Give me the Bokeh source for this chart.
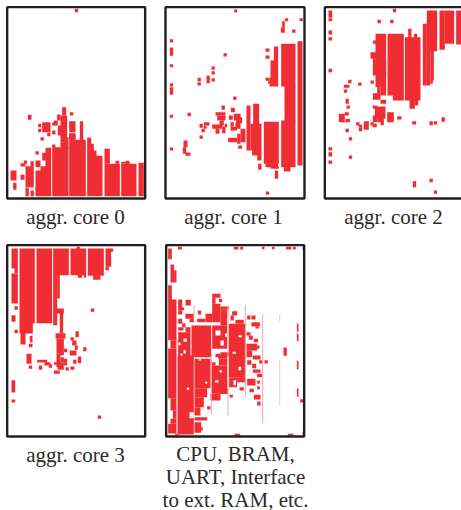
from bokeh.plotting import figure
from bokeh.models import Range1d
from bokeh.core.properties import value
from bokeh.embed import file_html
from bokeh.resources import INLINE

RED = "#ef2d33"
PALE = "#f6a5a8"
DARK = "#231f20"

# Floorplan blocks: x0, x1, y0, y1 in thirds of a pixel, relative to each panel's origin
panel_names = ["core0", "core1", "core2", "core3", "rest"]
panel_origin_x = [0, 155, 315, 0, 158]
panel_origin_y = [0, 0, 0, 238, 238]
panel_frame_x0 = [20, 30, 28, 20, 23]
panel_frame_x1 = [434, 447, 520, 434, 437]
panel_frame_y0 = [20, 20, 20, 20, 20]
panel_frame_y1 = [594, 594, 594, 594, 594]

core0 = [
 [223,233,25,35],[414,430,487,587],[362,408,490,587],[362,388,484,490],[376,386,481,490],
 [312,358,490,587],[312,328,445,490],[345,356,481,490],
 [260,306,466,587],[260,288,450,470],[260,280,430,455],[260,272,411,435],
 [206,256,418,587],[238,248,362,420],[206,225,398,420],[206,225,362,395],
 [155,204,440,587],[180,204,425,445],[190,204,410,430],
 [135,152,442,587],[125,138,457,480],[120,138,497,587],[105,122,510,587],
 [30,48,510,540],[38,48,547,568],[60,72,523,538],[60,75,488,498],[70,80,480,490],
 [75,100,497,560],[90,100,482,497],[105,120,480,500],[75,85,562,587],[90,100,570,587],[105,118,560,570],
 [82,93,343,358],[113,122,370,380],[113,122,385,395],[125,150,365,395],[140,150,397,407],
 [155,165,390,402],[120,130,410,420],[105,115,452,462],[155,165,432,442],
 [185,197,320,345],[170,180,342,360],[180,200,345,425],[160,172,360,375],[172,195,375,405],
 [155,165,365,375],[208,218,335,345],[206,216,400,415],[216,225,402,415],
]
core1 = [
 [236,245,27,36],[432,442,53,62],[388,398,53,62],[380,388,62,80],[376,388,80,97],[410,420,87,97],
 [43,53,116,126],[43,53,141,166],[43,53,191,200],[43,53,248,258],[43,53,260,283],[43,53,343,352],[43,53,441,450],
 [204,214,158,168],[168,178,198,208],[168,178,212,222],[153,163,225,248],[168,178,233,243],
 [126,136,232,242],[126,136,245,255],[233,243,288,298],[96,106,337,347],
 [330,342,144,154],[330,342,165,175],[330,342,232,241],[338,345,241,250],
 [355,368,138,182],[345,368,180,234],[342,368,232,258],
 [377,420,130,258],[387,420,255,362],[377,420,360,500],[385,405,498,513],[426,441,122,495],
 [325,370,364,490],[330,368,488,500],[345,370,498,505],[358,368,510,535],[308,318,490,508],
 [273,285,315,450],[293,311,310,372],[285,318,370,450],[290,318,448,465],[305,318,463,480],
 [132,142,370,382],[145,162,365,375],[145,153,375,385],[138,148,385,395],[132,142,405,415],
 [198,208,315,328],[180,210,335,345],[185,210,345,360],[192,205,360,375],[170,200,372,385],
 [180,192,385,400],[200,210,378,398],[208,215,370,380],
 [226,238,322,335],[220,232,345,358],[235,255,340,360],[242,260,350,368],[225,235,365,378],
 [240,255,365,385],[225,245,378,390],[218,245,412,425],[245,255,400,430],[255,270,385,425],[248,260,435,445],
 [84,96,420,440],[82,92,440,460],[90,105,456,466],[331,341,573,583],
]
core2 = [
 [39,50,30,52],[39,50,53,62],[39,50,90,102],[39,50,110,120],[39,50,205,215],[39,50,440,450],
 [39,50,455,468],[39,50,480,490],[232,242,25,35],[186,196,58,68],[224,234,58,68],
 [334,365,30,152],[372,388,30,148],[388,416,30,130],[422,438,30,132],
 [322,334,70,255],[334,345,60,255],[345,355,150,240],[345,352,238,250],
 [268,315,110,300],[278,288,85,112],[295,305,100,112],[282,298,298,325],[298,308,298,315],
 [216,265,100,285],[232,265,283,300],
 [180,212,100,260],[172,182,120,130],[165,182,155,175],[172,212,175,225],[195,212,258,285],
 [178,210,318,355],[172,185,315,325],[172,185,345,365],[185,205,353,365],[215,235,335,365],[245,258,347,357],
 [165,175,240,250],[185,195,260,280],[172,195,278,298],[195,212,298,310],[98,108,238,248],
 [128,138,246,256],[85,102,253,262],[85,95,267,277],[90,100,295,310],[93,103,315,325],
 [70,88,340,365],[88,100,335,345],[90,103,355,365],[122,132,365,375],[130,140,372,382],
 [130,140,382,392],[145,160,362,388],[165,175,365,375],[172,184,370,380],[195,205,364,374],
 [290,302,362,372],[342,352,362,374],[355,365,362,372],[378,388,350,364],[90,100,385,395],
 [100,110,410,420],[100,110,465,475],[292,302,542,560],[342,352,535,545],[355,365,570,580],
]
core3 = [
 [33,52,30,90],[42,52,88,105],[33,52,105,195],[57,103,30,255],[57,97,253,285],
 [108,155,30,254],[158,205,30,110],[158,170,108,260],[170,178,108,180],
 [210,257,30,110],[232,245,108,118],[250,257,108,118],[262,310,30,112],[278,300,110,124],
 [315,332,30,85],[330,338,30,40],[228,238,25,32],
 [315,325,85,95],[42,52,203,214],[33,45,230,250],[42,52,274,284],[271,281,210,220],
 [60,75,283,318],[88,96,292,312],[85,96,316,326],[165,190,210,225],[178,188,223,284],
 [165,195,284,301],[168,190,301,346],[168,180,346,386],[178,190,340,350],[180,190,356,371],
 [188,200,361,371],[195,205,386,396],[190,200,371,381],[160,178,396,406],[172,190,371,394],
 [225,235,278,296],[210,220,296,306],[215,228,306,321],[223,232,321,334],[248,258,326,338],
 [208,228,336,351],[190,200,331,341],[232,242,354,374],[218,228,364,376],[210,222,384,394],
 [78,93,346,376],[85,95,381,391],[115,125,381,394],[110,140,364,372],[132,150,371,381],
 [145,155,378,388],[160,170,371,379],
 [33,44,425,462],[33,44,483,492],[292,302,531,541],
]
rest = [
 [58,70,25,33],[226,240,25,33],[245,254,25,33],[310,318,25,32],[340,348,25,32],[382,398,25,33],
 [403,412,25,33],[432,437,25,33],[228,245,586,592],[388,405,586,592],[432,437,580,590],[50,60,586,592],
 [29,40,30,62],[36,47,78,132],[47,54,95,132],[29,40,140,185],
 [29,54,183,305],[36,54,305,330],[29,54,330,479],[36,54,479,516],[43,54,516,541],[36,54,541,556],[29,54,556,585],
 [59,71,183,216],[81,97,184,201],[59,71,216,228],[118,128,216,228],[66,77,207,215],
 [81,106,226,241],[93,106,241,251],[59,71,241,256],[71,81,254,266],[59,75,266,276],
 [59,96,281,356],[81,96,266,281],
 [141,161,226,251],[116,141,241,251],
 [161,186,166,178],[161,171,178,196],[181,191,181,191],[186,211,204,212],[161,186,196,251],[186,206,212,261],
 [99,158,261,356],
 [161,206,261,331],[186,211,341,353],[171,186,346,356],
 [221,236,218,231],[216,226,231,246],[231,256,244,256],[211,261,256,416],
 [212,236,416,446],[236,261,416,431],[243,256,446,456],
 [57,106,351,588],
 [108,156,361,449],[108,146,449,476],[108,136,476,506],[108,126,506,531],[108,146,536,546],
 [108,128,551,583],[128,133,566,576],[146,156,503,513],
 [159,206,381,466],[156,186,466,486],[186,209,451,466],[181,206,361,381],[179,206,351,361],[159,171,371,381],[213,223,469,477],
 [266,276,231,243],[279,291,231,243],[279,304,251,264],[291,301,264,270],[264,276,281,291],[271,283,291,304],
 [286,299,301,311],[264,296,316,336],[296,303,321,331],[264,281,336,356],[283,306,351,363],
 [266,279,365,379],[281,293,376,389],[283,306,393,403],[296,311,406,416],[266,291,421,441],[296,304,426,436],
 [296,304,443,453],[273,286,451,461],[286,306,469,483],[296,306,489,501],
 [302,312,365,375],[318,328,365,375],[375,385,327,352],
 [415,420,255,280],[415,420,285,308],[415,420,367,392],[415,420,450,475],[425,435,482,492],
]
rest_holes = [
 [93,106,521,539],[171,186,276,291],[186,196,306,321],[75,85,300,310],[75,82,335,345],
 [66,72,345,352],[200,206,285,295],[120,128,362,366],[60,66,312,320],[240,250,290,296],
 [222,232,340,346],[240,248,385,395],[225,232,425,440],[183,190,395,402],[140,146,430,436],
 [170,180,425,432],[85,92,448,454],
]
rest_pale = [
 [54,57,300,588],[105,108,200,240],[157,160,351,529],[207,210,205,530],[259,262,200,475],
 [311,314,228,555],[363,365,228,250],[363,365,365,500],
]

label_text = ["aggr. core 0","aggr. core 1","aggr. core 2","aggr. core 3","CPU, BRAM,","UART, Interface","to ext. RAM, etc."]
label_x = [75,233,393,75,235,235,235]
label_y = [216,216,216,454,453,476,499]

panels = [core0, core1, core2, core3, rest]

p = figure(width=461, height=510, output_backend="svg", toolbar_location=None,
           x_range=Range1d(0,461), y_range=Range1d(510,0), min_border=0, margin=0)
p.axis.visible = False
p.grid.visible = False
p.outline_line_color = None

def blocks(rows, ox, oy, color):
    p.quad(left=[ox+r[0]/3 for r in rows], right=[ox+r[1]/3 for r in rows],
           top=[oy+r[2]/3 for r in rows], bottom=[oy+r[3]/3 for r in rows],
           fill_color=color, line_color=None)

for rows, ox, oy in zip(panels, panel_origin_x, panel_origin_y):
    blocks(rows, ox, oy, RED)
blocks(rest_holes, panel_origin_x[4], panel_origin_y[4], "#ffffff")
blocks(rest_pale, panel_origin_x[4], panel_origin_y[4], PALE)

p.quad(left=[o+v/3 for o,v in zip(panel_origin_x,panel_frame_x0)],
       right=[o+v/3 for o,v in zip(panel_origin_x,panel_frame_x1)],
       top=[o+v/3 for o,v in zip(panel_origin_y,panel_frame_y0)],
       bottom=[o+v/3 for o,v in zip(panel_origin_y,panel_frame_y1)],
       fill_color=None, line_color=DARK, line_width=2.4)

p.text(x=label_x, y=label_y, text=label_text, text_font=value("Liberation Serif"),
       text_font_size="21px", text_color="#2b2a2a", text_align="center", text_baseline="middle")

open("out.html","w").write(file_html(p, INLINE))
